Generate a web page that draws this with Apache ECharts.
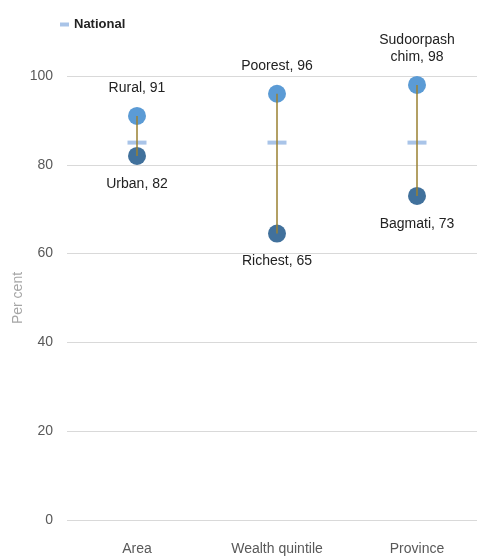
<!DOCTYPE html>
<html>
<head>
<meta charset="utf-8">
<script src="https://cdn.jsdelivr.net/npm/echarts@6/dist/echarts.min.js"></script>
<style>html,body{margin:0;padding:0;background:#fff}#c{width:477px;height:560px}</style>
</head>
<body>
<div id="c"></div>
<script>
var categories = ['Area', 'Wealth quintile', 'Province'];
var highValues = [91, 96, 98];
var highLabels = ['Rural, 91', 'Poorest, 96', 'Sudoorpash\nchim, 98'];
var lowValues = [82, 64.5, 73];
var lowLabels = ['Urban, 82', 'Richest, 65', 'Bagmati, 73'];
var nationalValues = [85, 85, 85];
var yTicks = [0, 20, 40, 60, 80, 100];

var font = 'Liberation Sans';
var chart = echarts.init(document.getElementById('c'));
chart.setOption({
  animation: false,
  textStyle: { fontFamily: font },
  legend: {
    data: ['National'],
    left: 55, top: 13,
    itemWidth: 9, itemHeight: 4, itemGap: 4,
    textStyle: { fontFamily: font, fontSize: 13, fontWeight: 'bold', color: '#222' }
  },
  grid: { left: 67, top: 76, width: 420, height: 444, outerBoundsMode: 'none', containLabel: false },
  xAxis: {
    type: 'category',
    data: categories,
    axisLine: { show: false },
    axisTick: { show: false },
    axisLabel: { color: '#595959', fontSize: 14, margin: 22, fontFamily: font }
  },
  yAxis: {
    type: 'value',
    min: yTicks[0], max: yTicks[yTicks.length - 1], interval: 20,
    name: 'Per cent', nameLocation: 'middle', nameGap: 42, nameMoveOverlap: false,
    nameTextStyle: { color: '#A6A6A6', fontSize: 14, fontFamily: font },
    axisLabel: { color: '#595959', fontSize: 14, margin: 14, fontFamily: font },
    splitLine: { lineStyle: { color: '#D9D9D9', width: 1 } },
    axisLine: { show: false }, axisTick: { show: false }
  },
  series: [
    {
      name: 'National', type: 'scatter', symbol: 'rect', symbolSize: [19, 4],
      itemStyle: { color: '#A9C4E8', opacity: 1 },
      data: nationalValues, z: 2
    },
    {
      name: 'High', type: 'scatter', symbolSize: 18,
      itemStyle: { color: '#5B9BD5', opacity: 1 },
      data: highValues.map(function (v, i) { return { value: v, label: { formatter: highLabels[i] } }; }),
      label: { show: true, position: 'top', distance: 10, color: '#222', fontSize: 14, fontFamily: font, lineHeight: 17 },
      z: 3
    },
    {
      name: 'Low', type: 'scatter', symbolSize: 18,
      itemStyle: { color: '#41719C', opacity: 1 },
      data: lowValues.map(function (v, i) { return { value: v, label: { formatter: lowLabels[i] } }; }),
      label: { show: true, position: 'bottom', distance: 12, color: '#222', fontSize: 14, fontFamily: font },
      z: 3
    },
    {
      name: 'Range', type: 'custom', z: 4,
      data: categories.map(function (c, i) { return [i, lowValues[i], highValues[i]]; }),
      renderItem: function (params, api) {
        var p1 = api.coord([api.value(0), api.value(1)]);
        var p2 = api.coord([api.value(0), api.value(2)]);
        return { type: 'line', shape: { x1: p1[0], y1: p1[1], x2: p2[0], y2: p2[1] },
          style: { stroke: '#9A8030', lineWidth: 1.5 } };
      }
    }
  ]
});
</script>
</body>
</html>
